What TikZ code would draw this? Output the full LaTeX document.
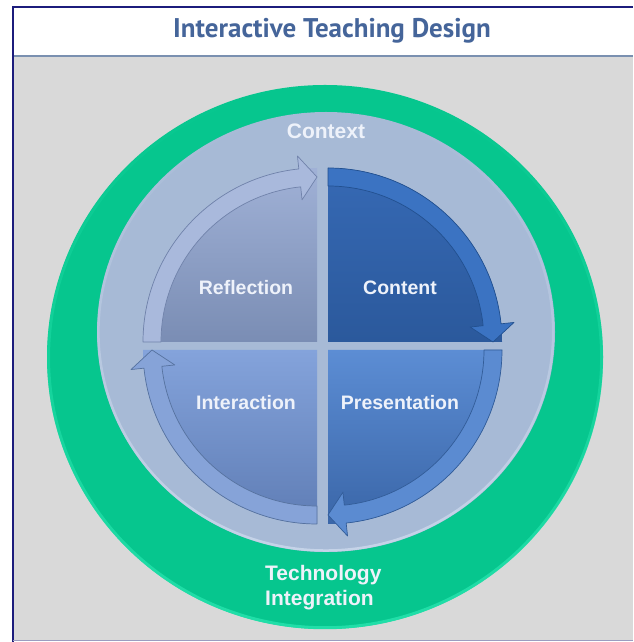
\documentclass[tikz,border=0pt]{standalone}
\usepackage{fontspec}
\setmainfont{Liberation Sans}
\newfontfamily\titlefont{PT Sans}
\usetikzlibrary{calc,fadings}
\definecolor{bggrey}{HTML}{D9D9D9}
\definecolor{navyline}{HTML}{1C1C7C}
\definecolor{sepblue}{HTML}{7A90B0}
\definecolor{botline}{HTML}{9C9CC0}
\definecolor{titleblue}{HTML}{45659A}
\definecolor{ringgreen}{HTML}{06C68E}
\definecolor{ringtop}{HTML}{22DFA9}
\definecolor{ctxblue}{HTML}{A7BAD6}
\definecolor{ctxrim}{HTML}{C6D4E9}
\definecolor{lbltext}{HTML}{EEF2FA}
% quadrant colours
\definecolor{reftop}{HTML}{A0B1D6}\definecolor{refbot}{HTML}{7A8DB4}\definecolor{refband}{HTML}{A9B9DC}\definecolor{refedge}{HTML}{7082AA}
\definecolor{contop}{HTML}{3669B4}\definecolor{conbot}{HTML}{2B599C}\definecolor{conband}{HTML}{3B73C2}\definecolor{conedge}{HTML}{22508F}
\definecolor{inttop}{HTML}{84A3DB}\definecolor{intbot}{HTML}{5F7DB5}\definecolor{intband}{HTML}{86A3D8}\definecolor{intedge}{HTML}{56729F}
\definecolor{pretop}{HTML}{5C8DD4}\definecolor{prebot}{HTML}{3A66A8}\definecolor{preband}{HTML}{5B8BD1}\definecolor{preedge}{HTML}{325C98}
% #1 corner, #2 start angle, #3 tip angle, #4 head base angle, #5 fill, #6 edge
\newcommand\qarrow[6]{%
  \filldraw[fill=#5, draw=#6, line width=0.7pt, line join=round]
    ($(#1)+(#2:174)$) arc[start angle=#2, end angle=#4, radius=174]
    -- ($(#1)+(#4:187)$) -- ($(#1)+(#3:165)$) -- ($(#1)+(#4:143)$)
    -- ($(#1)+(#4:156)$) arc[start angle=#4, end angle=#2, radius=156] -- cycle;}
\tikzset{
  qlabel/.style={text=lbltext, font=\fontsize{19.5}{22}\selectfont\bfseries, inner sep=0pt},
  biglabel/.style={text=lbltext, font=\fontsize{21}{25}\selectfont\bfseries, inner sep=0pt},
}
\begin{document}
\begin{tikzpicture}[x=1pt,y=1pt]
\useasboundingbox (0,0) rectangle (633,642);
\fill[white] (0,0) rectangle (633,642);
\fill[bggrey] (13,1) rectangle (633,585);
\fill[white] (13,586) rectangle (633,634);
\draw[sepblue, line width=2pt] (13,585.5) -- (633,585.5);
\draw[navyline, line width=2pt] (13,0) -- (13,635) -- (633,635);
\draw[botline, line width=1pt] (13,1) -- (633,1);
\node[text=titleblue, font=\titlefont\bfseries\fontsize{27}{30}\selectfont, inner sep=0pt] (title) at (332,611) {Interactive Teaching Design};
% rings
\fill[ringgreen] (325,285) ellipse [x radius=278, y radius=272];
\draw[ringtop, line width=3pt, path fading=north] (325,285) ellipse [x radius=276.5, y radius=270.5];
\fill[ctxblue] (326,310) ellipse [x radius=229, y radius=220];
\draw[ctxrim, line width=2.5pt, path fading=north] (326,310) ellipse [x radius=227.5, y radius=218.5];
% coordinates of quadrant corners
\coordinate (tl) at (317,300);
\coordinate (tr) at (328,300);
\coordinate (bl) at (317,292);
\coordinate (br) at (328,292);
% pies
\shade[top color=reftop, bottom color=refbot] (tl) -- ++(180:174) arc[start angle=180, end angle=90, radius=174] -- cycle;
\shade[top color=contop, bottom color=conbot] (tr) -- ++(90:174) arc[start angle=90, end angle=0, radius=174] -- cycle;
\shade[top color=inttop, bottom color=intbot] (bl) -- ++(270:174) arc[start angle=270, end angle=180, radius=174] -- cycle;
\shade[top color=pretop, bottom color=prebot] (br) -- ++(0:174) arc[start angle=0, end angle=-90, radius=174] -- cycle;
% arrows
\qarrow{tl}{180}{90}{96}{refband}{refedge}
\qarrow{tr}{90}{0}{6}{conband}{conedge}
\qarrow{br}{0}{-90}{-84}{preband}{preedge}
\qarrow{bl}{-90}{-180}{-174}{intband}{intedge}
% labels
\node[qlabel] (refl) at (246,354) {Reflection};
\node[qlabel] (cont) at (400,354) {Content};
\node[qlabel] (inter) at (246,239) {Interaction};
\node[qlabel] (pres) at (400,239) {Presentation};
\node[biglabel] (ctx) at (326,511) {Context};
\node[biglabel, align=left, anchor=west] (tech) at (265,54.5) {Technology\\Integration};
\end{tikzpicture}
\end{document}
